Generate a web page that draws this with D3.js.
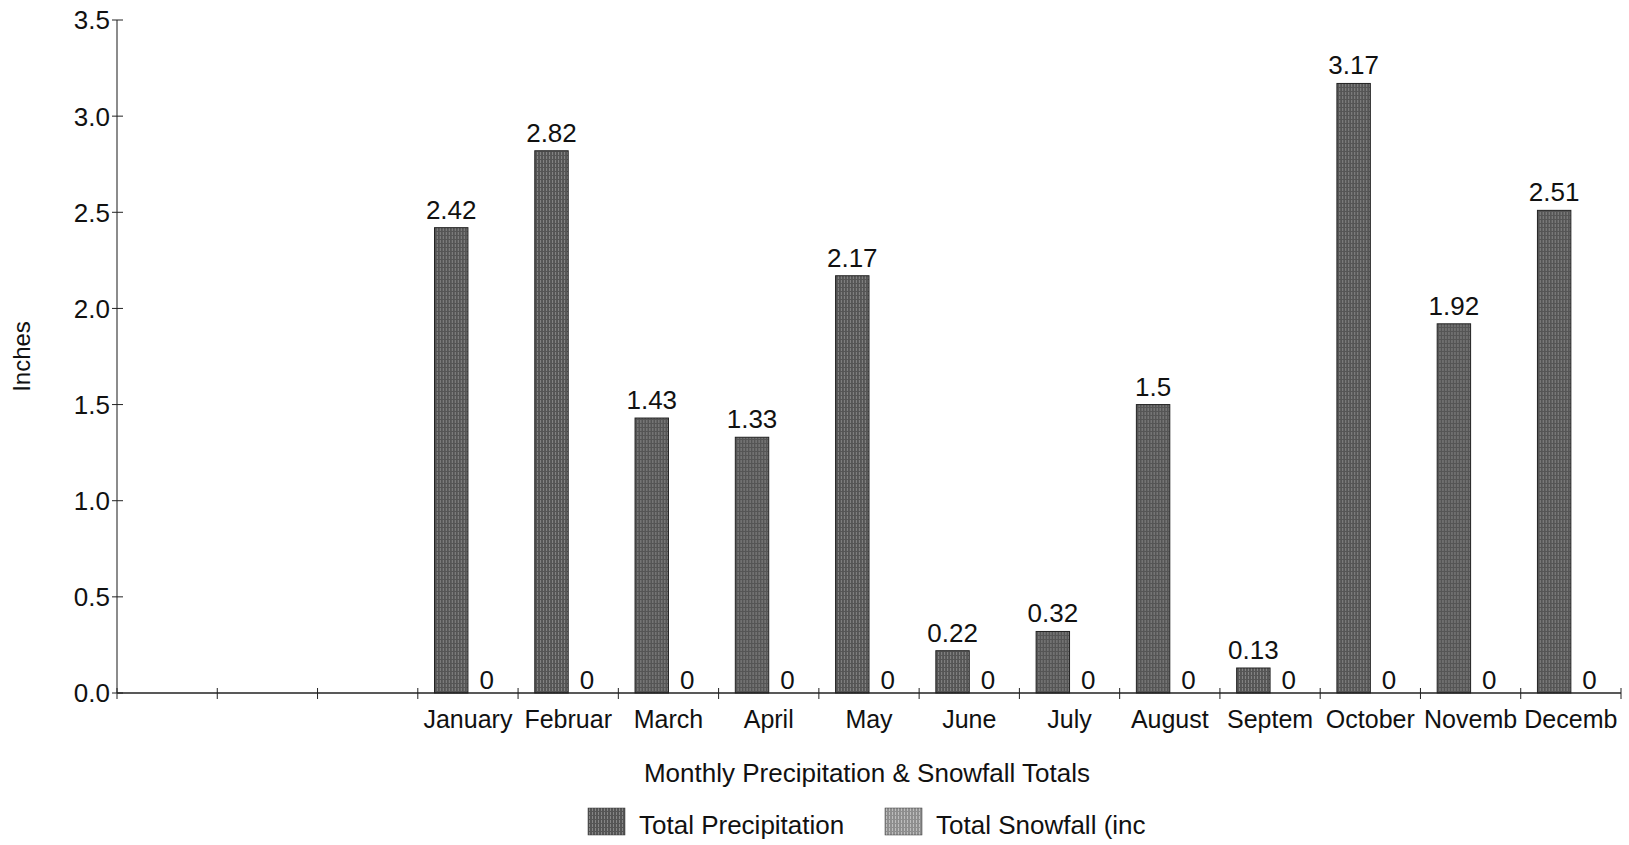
<!DOCTYPE html>
<html>
<head>
<meta charset="utf-8">
<script src="https://cdn.jsdelivr.net/npm/d3@7"></script>
<style>
  html, body { margin: 0; padding: 0; background: #fff; }
  svg { display: block; font-family: "Liberation Sans", Arial, sans-serif; }
</style>
</head>
<body>
<svg id="chart" width="1629" height="845"></svg>
<script>
// ---- data ----
const slotLabels = ["", "", "", "January", "Februar", "March", "April", "May", "June", "July", "August", "Septem", "October", "Novemb", "Decemb"];
const precipitation = [null, null, null, 2.42, 2.82, 1.43, 1.33, 2.17, 0.22, 0.32, 1.5, 0.13, 3.17, 1.92, 2.51];
const snowfall = [null, null, null, 0, 0, 0, 0, 0, 0, 0, 0, 0, 0, 0, 0];
const seriesNames = ["Total Precipitation", "Total Snowfall (inc"];
const yTicks = [0, 0.5, 1.0, 1.5, 2.0, 2.5, 3.0, 3.5];
const xTitle = "Monthly Precipitation & Snowfall Totals";
const yTitle = "Inches";

const svg = d3.select("#chart");
const plotL = 117, plotR = 1621, plotT = 20, plotB = 693;

const defs = svg.append("defs");
function makePattern(id, base, line) {
  const p = defs.append("pattern").attr("id", id).attr("width", 3).attr("height", 4)
    .attr("patternUnits", "userSpaceOnUse");
  p.append("rect").attr("width", 3).attr("height", 4).attr("fill", base);
  p.append("rect").attr("x", 1).attr("width", 1).attr("height", 3).attr("fill", line);
}
makePattern("pPrecip", "#555", "#858585");
makePattern("pSnow", "#8e8e8e", "#bdbdbd");
const fills = ["url(#pPrecip)", "url(#pSnow)"];

const x0 = d3.scaleBand().domain(d3.range(slotLabels.length)).range([plotL, plotR]).padding(0);
const x1 = d3.scaleBand().domain([0, 1]).range([0, x0.bandwidth()]).paddingInner(0).paddingOuter(0.5);
const y = d3.scaleLinear().domain([0, 3.5]).range([plotB, plotT]);

// bars
const groups = svg.append("g").selectAll("g")
  .data(d3.range(slotLabels.length))
  .join("g")
  .attr("transform", i => `translate(${x0(i)},0)`);

groups.each(function(i) {
  const g = d3.select(this);
  const vals = [precipitation[i], snowfall[i]];
  vals.forEach((v, s) => {
    if (v === null) return;
    if (v > 0) {
      g.append("rect")
        .attr("x", x1(s)).attr("y", y(v))
        .attr("width", x1.bandwidth()).attr("height", y(0) - y(v))
        .attr("fill", fills[s]).attr("stroke", "#222").attr("stroke-width", 1);
    }
    g.append("text")
      .attr("x", x1(s) + x1.bandwidth() / 2 + (v > 0 ? 0 : 2))
      .attr("y", y(v) - (v > 0 ? 9 : 4))
      .attr("text-anchor", "middle")
      .attr("font-size", 26)
      .attr("fill", "#111")
      .text(String(v));
  });
});

// y axis
const yAxis = svg.append("g");
yAxis.append("line").attr("x1", plotL).attr("x2", plotL).attr("y1", plotT).attr("y2", plotB)
  .attr("stroke", "#666").attr("stroke-width", 1.5);
yAxis.selectAll("line.tick").data(yTicks).join("line").attr("class", "tick")
  .attr("x1", plotL - 5).attr("x2", plotL + 6)
  .attr("y1", d => y(d)).attr("y2", d => y(d))
  .attr("stroke", "#222").attr("stroke-width", 1);
yAxis.selectAll("text").data(yTicks).join("text")
  .attr("x", plotL - 7).attr("y", d => y(d))
  .attr("dy", "0.36em")
  .attr("text-anchor", "end")
  .attr("font-size", 26)
  .attr("fill", "#111")
  .text(d => d3.format(".1f")(d));

// x axis
const xAxis = svg.append("g");
xAxis.append("line").attr("x1", plotL).attr("x2", plotR).attr("y1", plotB).attr("y2", plotB)
  .attr("stroke", "#222").attr("stroke-width", 1.5);
const bounds = d3.range(slotLabels.length + 1).map(i => plotL + i * x0.step());
xAxis.selectAll("line.tick").data(bounds).join("line").attr("class", "tick")
  .attr("x1", d => d).attr("x2", d => d)
  .attr("y1", plotB - 5).attr("y2", plotB + 6)
  .attr("stroke", "#222").attr("stroke-width", 1);
xAxis.selectAll("text").data(d3.range(slotLabels.length)).join("text")
  .attr("x", i => x0(i) + x0.bandwidth() / 2)
  .attr("y", 728)
  .attr("text-anchor", "middle")
  .attr("font-size", 25)
  .attr("fill", "#111")
  .text(i => slotLabels[i]);

// titles
svg.append("text").attr("x", (plotL + plotR) / 2 - 2).attr("y", 782)
  .attr("text-anchor", "middle").attr("font-size", 26).attr("fill", "#111").text(xTitle);
svg.append("text").attr("transform", `translate(30,${(plotT + plotB) / 2}) rotate(-90)`)
  .attr("text-anchor", "middle").attr("font-size", 24).attr("fill", "#111").text(yTitle);

// legend
const legendX = [588, 885];
seriesNames.forEach((name, s) => {
  svg.append("rect").attr("x", legendX[s]).attr("y", 808).attr("width", 37).attr("height", 27)
    .attr("fill", fills[s]).attr("stroke", "#333").attr("stroke-width", 0.5);
  svg.append("text").attr("x", legendX[s] + 51).attr("y", 834)
    .attr("font-size", 26).attr("fill", "#111").text(name);
});
</script>
</body>
</html>
